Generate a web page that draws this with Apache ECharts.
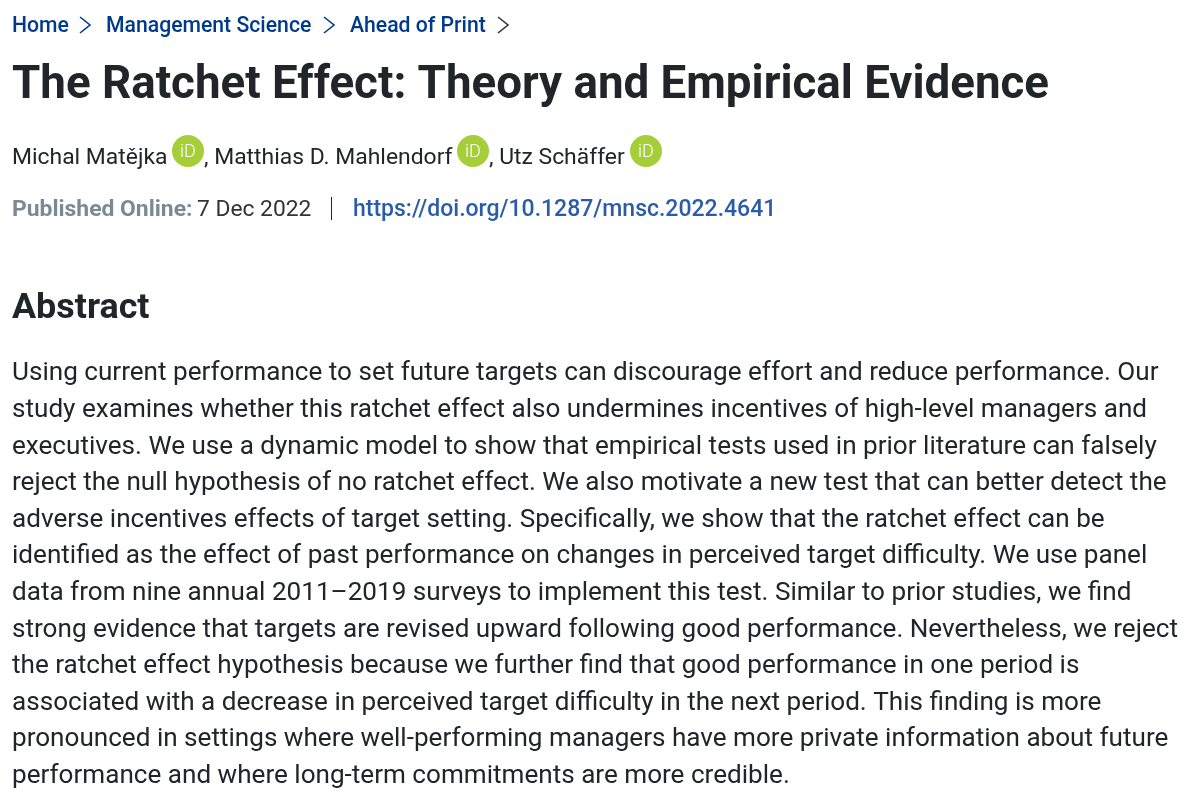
<!DOCTYPE html>
<html>
<head>
    <meta charset="utf-8">
    <title>The Ratchet Effect</title>
    <script src="https://cdn.jsdelivr.net/npm/echarts@6/dist/echarts.min.js"></script>
    <style type="text/css">
        html, body { margin: 0; padding: 0; background: #ffffff; }
        #main { width: 1200px; height: 800px; }
    </style>
</head>
<body>
<div id="main"></div>
<script>
    var crumbs = [['Home', 12], ['Management Science', 106], ['Ahead of Print', 350]];
    var crumbArrows = [85, 329, 503];
    var heading = 'The Ratchet Effect: Theory and Empirical Evidence';
    var authors = [['Michal Matějka', 12], [', Matthias D. Mahlendorf', 204], [', Utz Schäffer', 489]];
    var orcidX = [188, 473, 646];
    var publishedLabel = 'Published Online:';
    var publishedDate = '7 Dec 2022';
    var doi = 'https://doi.org/10.1287/mnsc.2022.4641';
    var abstractTitle = 'Abstract';
    var abstractLines = [
        'Using current performance to set future targets can discourage effort and reduce performance. Our',
        'study examines whether this ratchet effect also undermines incentives of high-level managers and',
        'executives. We use a dynamic model to show that empirical tests used in prior literature can falsely',
        'reject the null hypothesis of no ratchet effect. We also motivate a new test that can better detect the',
        'adverse incentives effects of target setting. Specifically, we show that the ratchet effect can be',
        'identified as the effect of past performance on changes in perceived target difficulty. We use panel',
        'data from nine annual 2011–2019 surveys to implement this test. Similar to prior studies, we find',
        'strong evidence that targets are revised upward following good performance. Nevertheless, we reject',
        'the ratchet effect hypothesis because we further find that good performance in one period is',
        'associated with a decrease in perceived target difficulty in the next period. This finding is more',
        'pronounced in settings where well-performing managers have more private information about future',
        'performance and where long-term commitments are more credible.'
    ];

    var font = 'Roboto';

    function label(text, x, y, size, weight, color) {
        return {
            type: 'text', x: x, y: y,
            style: {
                text: text, fill: color, fontFamily: font, fontSize: size, fontWeight: weight,
                textVerticalAlign: 'middle', textAlign: 'left'
            }
        };
    }

    var items = [];
    crumbs.forEach(function (c) {
        items.push(label(c[0], c[1], 27, 21.2, 500, '#003a8c'));
    });
    crumbArrows.forEach(function (x) {
        items.push({
            type: 'polyline', x: x, y: 25,
            shape: {points: [[-5, -8], [5, 0], [-5, 8]]},
            style: {stroke: x === 503 ? '#333333' : '#003a8c', lineWidth: 1.6, fill: null}
        });
    });
    items.push(label(heading, 12, 87, 45.7, 700, '#212529'));
    authors.forEach(function (a) {
        items.push(label(a[0], a[1], 158, 22.9, 400, '#212529'));
    });
    orcidX.forEach(function (x) {
        items.push({
            type: 'circle', x: x, y: 151, shape: {r: 16},
            style: {fill: '#a6ce39'}
        });
        items.push({
            type: 'text', x: x, y: 152,
            style: {
                text: 'iD', fill: '#ffffff', fontFamily: font, fontSize: 18, fontWeight: 300,
                textAlign: 'center', textVerticalAlign: 'middle'
            }
        });
    });
    items.push(label(publishedLabel, 12, 210, 22.9, 700, '#7a8a94'));
    items.push(label(publishedDate, 197, 210, 22.8, 400, '#333333'));
    items.push({
        type: 'line', shape: {x1: 331.5, y1: 197, x2: 331.5, y2: 220},
        style: {stroke: '#212529', lineWidth: 1}
    });
    items.push(label(doi, 353, 210, 23, 500, '#2a5caa'));
    items.push(label(abstractTitle, 12, 309, 35.9, 700, '#212529'));
    abstractLines.forEach(function (line, i) {
        items.push(label(line, 12, 373.8 + i * 36.6, 26.1, 400, '#212529'));
    });

    var chart = echarts.init(document.getElementById('main'));
    chart.setOption({
        backgroundColor: '#ffffff',
        animation: false,
        graphic: {elements: items}
    });
</script>
</body>
</html>
